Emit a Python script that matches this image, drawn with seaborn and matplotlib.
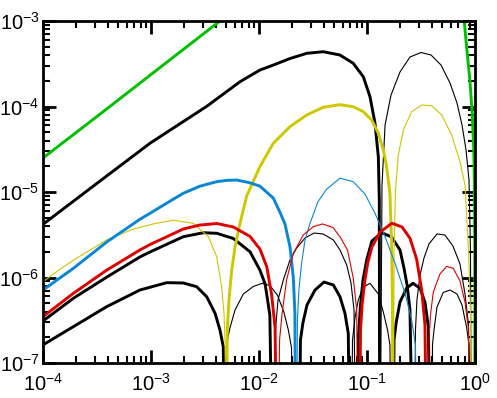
import pandas as pd
import seaborn as sns
import matplotlib
matplotlib.use("Agg")
import matplotlib.pyplot as plt
from matplotlib.ticker import LogLocator, NullFormatter

# values (1e-9 marks a zero crossing below the axis)
green_l_x = [1e-4, 3.1e-4, 9.8e-4, 4.35e-3, 6e-3]
green_l_y = [2.5e-5, 7.5e-5, 2.32e-4, 1e-3, 1.35e-3]
green_r_x = [0.74, 0.796, 0.838, 0.899, 0.944, 0.973, 0.989, 0.996, 1.0]
green_r_y = [1.6e-3, 9.8e-4, 4.83e-4, 1.95e-4, 7.96e-5, 3.27e-5, 1.21e-5, 2e-6, 1e-9]

blackA_1_x = [1e-4, 3.1e-4, 9.8e-4, 3.3e-3, 6.67e-3, 1.02e-2, 1.355e-2, 1.935e-2, 2.77e-2,
              3.94e-2, 5.62e-2, 7.46e-2, 9.24e-2, 0.1066, 0.1186, 0.1273, 0.130, 0.1312]
blackA_1_y = [4.19e-6, 1.24e-5, 3.72e-5, 1.01e-4, 1.95e-4, 2.67e-4, 3.05e-4, 3.64e-4, 4.19e-4,
              4.37e-4, 4.0e-4, 3.2e-4, 2.23e-4, 1.30e-4, 6.37e-5, 2.59e-5, 8.05e-6, 1e-9]
blackA_2_x = [0.1312, 0.1377, 0.147, 0.1668, 0.202, 0.250, 0.316, 0.392, 0.485, 0.587,
              0.681, 0.758, 0.826, 0.880, 0.908, 0.928]
blackA_2_y = [1e-9, 1.21e-5, 6.08e-5, 1.36e-4, 2.53e-4, 3.79e-4, 4.28e-4, 4.0e-4, 3.05e-4,
              1.88e-4, 1.1e-4, 6.08e-5, 3.1e-5, 1.38e-5, 2.1e-6, 1e-9]

yellow_1_x = [1e-4, 1.436e-4, 2.2e-4, 3.89e-4, 6.86e-4, 1.09e-3, 1.61e-3, 2.46e-3, 3.4e-3,
              4.06e-3, 4.51e-3, 4.74e-3, 4.87e-3, 4.98e-3]
yellow_1_y = [8.9e-7, 1.25e-6, 1.78e-6, 2.75e-6, 3.69e-6, 4.28e-6, 4.67e-6, 4.31e-6, 3.0e-6,
              1.75e-6, 7.8e-7, 3.81e-7, 1.55e-7, 1e-9]
yellow_2_x = [4.98e-3, 5.08e-3, 5.3e-3, 5.59e-3, 6.0e-3, 6.67e-3, 7.69e-3, 1.02e-2, 1.355e-2,
              1.935e-2, 2.77e-2, 3.94e-2, 5.62e-2, 7.46e-2, 9.24e-2, 0.1105, 0.1273, 0.1416,
              0.152, 0.163, 0.1686, 0.172, 0.175]
yellow_2_y = [1e-9, 2.43e-7, 5.96e-7, 1.22e-6, 2.29e-6, 4.3e-6, 8.97e-6, 1.98e-5, 3.71e-5,
              5.81e-5, 7.96e-5, 9.8e-5, 1.05e-4, 9.95e-5, 8.7e-5, 6.95e-5, 4.86e-5, 3.1e-5,
              1.98e-5, 9.66e-6, 2.75e-6, 5.46e-7, 1e-9]
yellow_3_x = [0.175, 0.178, 0.1836, 0.195, 0.217, 0.259, 0.321, 0.397, 0.492, 0.608, 0.726,
              0.808, 0.871, 0.908, 0.928]
yellow_3_y = [1e-9, 2.1e-6, 1.05e-5, 2.71e-5, 5.3e-5, 8.7e-5, 1.04e-4, 1.02e-4, 7.96e-5,
              4.65e-5, 2.26e-5, 1.21e-5, 2.1e-6, 4.17e-7, 1e-9]

blue_1_x = [1e-4, 1.91e-4, 3.89e-4, 7.9e-4, 9.8e-4, 1.56e-3, 1.99e-3, 2.84e-3, 4.06e-3,
            5.1e-3, 6.22e-3, 8.26e-3, 1.02e-2, 1.355e-2, 1.56e-2, 1.74e-2, 1.935e-2, 2.08e-2,
            2.15e-2, 2.2e-2]
blue_1_y = [7.14e-7, 1.28e-6, 2.6e-6, 4.8e-6, 5.64e-6, 8.05e-6, 9.66e-6, 1.17e-5, 1.32e-5,
            1.37e-5, 1.38e-5, 1.28e-5, 1.17e-5, 8.5e-6, 5.83e-6, 4.23e-6, 2.29e-6, 9.86e-7,
            3.81e-7, 1e-9]
blue_2_x = [2.2e-2, 2.27e-2, 2.34e-2, 2.48e-2, 2.67e-2, 2.97e-2, 3.52e-2, 4.23e-2, 5.62e-2,
            7.46e-2, 9.57e-2, 0.1186, 0.147, 0.1816, 0.225, 0.259, 0.281, 0.2965]
blue_2_y = [1e-9, 3.18e-7, 7.14e-7, 1.47e-6, 2.75e-6, 4.31e-6, 7.71e-6, 1.08e-5, 1.45e-5,
            1.32e-5, 9.48e-6, 5.64e-6, 3.0e-6, 1.47e-6, 6.53e-7, 3.18e-7, 1.62e-7, 1e-9]

red_1_x = [1e-4, 1.91e-4, 3.89e-4, 7.9e-4, 9.8e-4, 1.99e-3, 2.84e-3, 4.06e-3, 5.78e-3,
           8.26e-3, 1.02e-2, 1.18e-2, 1.31e-2, 1.41e-2, 1.48e-2]
red_1_y = [3.48e-7, 6.53e-7, 1.22e-6, 2.1e-6, 2.43e-6, 3.69e-6, 4.11e-6, 4.28e-6, 3.9e-6,
           3.02e-6, 2.15e-6, 1.34e-6, 6.24e-7, 2.57e-7, 1e-9]
red_2_x = [1.48e-2, 1.55e-2, 1.63e-2, 1.8e-2, 2.08e-2, 2.57e-2, 3.18e-2, 3.87e-2, 4.84e-2,
           5.62e-2, 6.6e-2, 7.46e-2, 8.03e-2, 8.38e-2]
red_2_y = [1e-9, 1.86e-7, 3.64e-7, 9.35e-7, 1.92e-6, 3.14e-6, 3.93e-6, 4.23e-6, 3.85e-6,
           3.0e-6, 2.1e-6, 9.86e-7, 4.17e-7, 1e-9]
red_3_x = [8.38e-2, 8.71e-2, 9.0e-2, 9.57e-2, 0.102, 0.111, 0.132, 0.170, 0.211, 0.250,
           0.288, 0.321, 0.344, 0.363]
red_3_y = [1e-9, 2.43e-7, 4.76e-7, 9.35e-7, 1.52e-6, 2.27e-6, 3.4e-6, 4.31e-6, 3.9e-6,
           2.88e-6, 1.64e-6, 7.14e-7, 2.78e-7, 1e-9]
red_4_x = [0.363, 0.375, 0.387, 0.411, 0.474, 0.547, 0.630, 0.726, 0.808, 0.867, 0.918]
red_4_y = [1e-9, 1.86e-7, 3.64e-7, 6.76e-7, 1.1e-6, 1.35e-6, 1.28e-6, 9.1e-7, 5.16e-7,
           2.57e-7, 1e-9]

blackB_1_x = [1e-4, 1.91e-4, 3.89e-4, 7.9e-4, 9.8e-4, 1.99e-3, 3.05e-3, 4.06e-3, 5.78e-3,
              8.26e-3, 1.02e-2, 1.14e-2, 1.26e-2, 1.36e-2]
blackB_1_y = [3.1e-7, 5.71e-7, 1.01e-6, 1.74e-6, 1.99e-6, 3.0e-6, 3.34e-6, 3.29e-6, 2.86e-6,
              2.0e-6, 1.22e-6, 8.39e-7, 3.64e-7, 1e-9]
blackB_2_x = [1.36e-2, 1.42e-2, 1.5e-2, 1.68e-2, 1.935e-2, 2.23e-2, 2.67e-2, 3.23e-2, 3.92e-2,
              4.88e-2, 5.62e-2, 6.49e-2, 7.11e-2, 7.58e-2, 8.0e-2]
blackB_2_y = [1e-9, 2.43e-7, 5.46e-7, 9.35e-7, 1.6e-6, 2.21e-6, 2.9e-6, 3.31e-6, 3.23e-6,
              2.75e-6, 2.1e-6, 1.4e-6, 8.63e-7, 4.17e-7, 1e-9]
blackB_3_x = [8.0e-2, 8.34e-2, 8.71e-2, 9.18e-2, 9.93e-2, 0.111, 0.1367, 0.169, 0.202, 0.220,
              0.235, 0.250, 0.272]
blackB_3_y = [1e-9, 2.12e-7, 4.76e-7, 9.35e-7, 1.6e-6, 2.67e-6, 3.34e-6, 2.98e-6, 2.1e-6,
              1.29e-6, 8.17e-7, 4.17e-7, 1e-9]
blackB_4_x = [0.272, 0.281, 0.290, 0.310, 0.337, 0.375, 0.445, 0.527, 0.625, 0.726, 0.808,
              0.871, 0.928]
blackB_4_y = [1e-9, 2.43e-7, 5.46e-7, 1.07e-6, 1.69e-6, 2.47e-6, 3.23e-6, 3.14e-6, 2.33e-6,
              1.44e-6, 6.41e-7, 2.78e-7, 1e-9]

blackC_1_x = [1e-4, 1.91e-4, 3.89e-4, 7.9e-4, 1.4e-3, 1.99e-3, 2.65e-3, 3.28e-3, 3.92e-3,
              4.35e-3, 4.67e-3, 4.9e-3]
blackC_1_y = [1.63e-7, 2.66e-7, 4.56e-7, 7.14e-7, 8.7e-7, 8.63e-7, 7.8e-7, 5.96e-7, 3.81e-7,
              2.43e-7, 1.55e-7, 1e-9]
blackC_2_x = [4.9e-3, 5.11e-3, 5.38e-3, 6.0e-3, 7.16e-3, 8.85e-3, 1.07e-2, 1.26e-2, 1.48e-2,
              1.7e-2, 1.87e-2, 2.0e-2, 2.08e-2]
blackC_2_y = [1e-9, 1.86e-7, 2.57e-7, 4.17e-7, 6.41e-7, 7.85e-7, 8.55e-7, 8.05e-7, 6.24e-7,
              3.94e-7, 2.43e-7, 1.5e-7, 1e-9]
blackC_3_x = [2.32e-2, 2.42e-2, 2.55e-2, 2.78e-2, 3.3e-2, 4.0e-2, 4.88e-2, 5.62e-2, 6.25e-2,
              6.71e-2, 7.03e-2]
blackC_3_y = [1e-9, 1.86e-7, 2.94e-7, 4.76e-7, 7.14e-7, 8.85e-7, 8.17e-7, 5.96e-7, 3.81e-7,
              2.22e-7, 1e-9]
blackC_4_x = [7.05e-2, 7.34e-2, 7.74e-2, 8.3e-2, 9.24e-2, 0.1066, 0.1273, 0.1416, 0.155,
              0.163, 0.170]
blackC_4_y = [1e-9, 1.86e-7, 3.36e-7, 5.46e-7, 7.74e-7, 8.55e-7, 6.41e-7, 3.94e-7, 2.43e-7,
              1.63e-7, 1e-9]
blackC_5_x = [0.172, 0.178, 0.186, 0.202, 0.233, 0.267, 0.310, 0.344, 0.370, 0.392]
blackC_5_y = [1e-9, 1.86e-7, 2.94e-7, 5.16e-7, 7.53e-7, 8.55e-7, 7.48e-7, 5.16e-7, 2.64e-7,
              1e-9]
blackC_6_x = [0.392, 0.404, 0.417, 0.445, 0.508, 0.587, 0.681, 0.758, 0.838, 0.880, 0.908]
blackC_6_y = [1e-9, 1.63e-7, 2.43e-7, 4.52e-7, 6.68e-7, 7.14e-7, 6.41e-7, 4.76e-7, 2.57e-7,
              1.63e-7, 1e-9]

colors = {
    "black": "#000000",
    "green": "#00c000",
    "yellow": "#cfc800",
    "blue": "#0a86d6",
    "red": "#dd0000",
}

segments = [
    ("green_l", "green", "thick", green_l_x, green_l_y),
    ("green_r", "green", "thick", green_r_x, green_r_y),
    ("blackA_1", "black", "thick", blackA_1_x, blackA_1_y),
    ("blackA_2", "black", "thin", blackA_2_x, blackA_2_y),
    ("yellow_1", "yellow", "thin", yellow_1_x, yellow_1_y),
    ("yellow_2", "yellow", "thick", yellow_2_x, yellow_2_y),
    ("yellow_3", "yellow", "thin", yellow_3_x, yellow_3_y),
    ("blue_1", "blue", "thick", blue_1_x, blue_1_y),
    ("blue_2", "blue", "thin", blue_2_x, blue_2_y),
    ("red_1", "red", "thick", red_1_x, red_1_y),
    ("red_2", "red", "thin", red_2_x, red_2_y),
    ("red_3", "red", "thick", red_3_x, red_3_y),
    ("red_4", "red", "thin", red_4_x, red_4_y),
    ("blackB_1", "black", "thick", blackB_1_x, blackB_1_y),
    ("blackB_2", "black", "thin", blackB_2_x, blackB_2_y),
    ("blackB_3", "black", "thick", blackB_3_x, blackB_3_y),
    ("blackB_4", "black", "thin", blackB_4_x, blackB_4_y),
    ("blackC_1", "black", "thick", blackC_1_x, blackC_1_y),
    ("blackC_2", "black", "thin", blackC_2_x, blackC_2_y),
    ("blackC_3", "black", "thick", blackC_3_x, blackC_3_y),
    ("blackC_4", "black", "thin", blackC_4_x, blackC_4_y),
    ("blackC_5", "black", "thick", blackC_5_x, blackC_5_y),
    ("blackC_6", "black", "thin", blackC_6_x, blackC_6_y),
]

rows = []
for name, color, weight, xs, ys in segments:
    for i, (x, y) in enumerate(zip(xs, ys)):
        rows.append({"segment": name, "color": color, "weight": weight,
                     "order": i, "x": x, "y": y})
df = pd.DataFrame(rows)

sns.set_style("ticks")
plt.rcParams["font.family"] = ["Liberation Sans", "DejaVu Sans"]
plt.rcParams["axes.unicode_minus"] = False

fig = plt.figure(figsize=(4.97, 3.98), dpi=100)
ax = fig.add_axes([43 / 497, 35 / 398, 432 / 497, 342 / 398])

sns.lineplot(
    data=df,
    x="x",
    y="y",
    hue="color",
    palette=colors,
    size="weight",
    sizes={"thick": 2.1, "thin": 0.8},
    units="segment",
    estimator=None,
    sort=False,
    legend=False,
    ax=ax,
)

ax.set_xscale("log")
ax.set_yscale("log")
ax.set_xlim(1e-4, 1)
ax.set_ylim(1e-7, 1e-3)
ax.set_xlabel("")
ax.set_ylabel("")

ax.xaxis.set_major_locator(LogLocator(base=10, numticks=10))
ax.yaxis.set_major_locator(LogLocator(base=10, numticks=10))
ax.xaxis.set_minor_locator(LogLocator(base=10, subs=range(2, 10), numticks=50))
ax.yaxis.set_minor_locator(LogLocator(base=10, subs=range(2, 10), numticks=50))
ax.xaxis.set_minor_formatter(NullFormatter())
ax.yaxis.set_minor_formatter(NullFormatter())

ax.tick_params(which="both", direction="in", top=True, right=True, colors="black")
ax.tick_params(which="major", length=9.5, width=2, labelsize=14.5)
ax.tick_params(axis="x", which="major", pad=7)
ax.tick_params(axis="y", which="major", pad=2.5)
ax.tick_params(which="minor", length=5, width=1.5)
for s in ax.spines.values():
    s.set_linewidth(2)
    s.set_color("black")

fig.savefig("out.png", dpi=100)
